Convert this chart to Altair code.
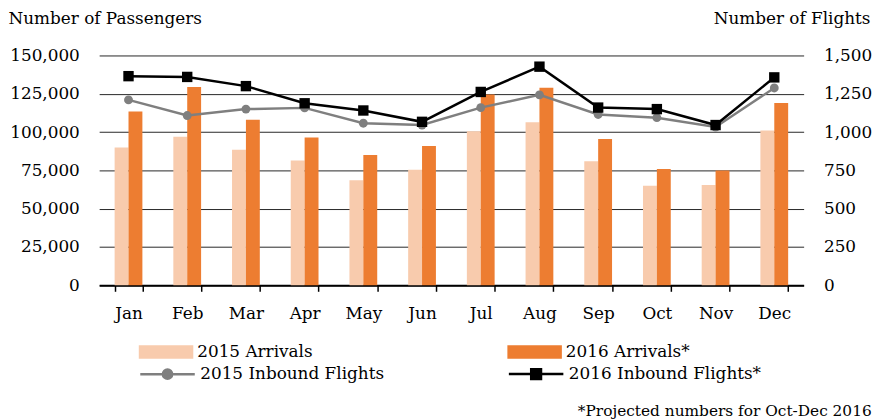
import altair as alt
import pandas as pd

months = ["Jan", "Feb", "Mar", "Apr", "May", "Jun", "Jul", "Aug", "Sep", "Oct", "Nov", "Dec"]
bar_series = ["2015 Arrivals", "2016 Arrivals*"]
line_series = ["2015 Inbound Flights", "2016 Inbound Flights*"]
arrivals_2015 = [90000, 97000, 88500, 81500, 68500, 75500, 100500, 106500, 81000, 65000, 65500, 101000]
arrivals_2016 = [113500, 129500, 108000, 96500, 85000, 91000, 124500, 129000, 95500, 76000, 75000, 119000]
flights_2015 = [1210, 1108, 1150, 1158, 1058, 1046, 1160, 1243, 1115, 1094, 1033, 1288]
flights_2016 = [1365, 1360, 1300, 1188, 1141, 1067, 1262, 1427, 1160, 1150, 1046, 1357]
passenger_ticks = [0, 25000, 50000, 75000, 100000, 125000, 150000]
flight_ticks = [0, 250, 500, 750, 1000, 1250, 1500]
left_title = "Number of Passengers"
right_title = "Number of Flights"
footnote = "*Projected numbers for Oct-Dec 2016"

FONT = "DejaVu Serif"
FS = 17
C15_BAR, C16_BAR = "#F8CBAD", "#ED7D31"
C15_LINE, C16_LINE = "#7F7F7F", "#000000"

bars_df = pd.DataFrame({
    "month": months * 2,
    "series": [bar_series[0]] * 12 + [bar_series[1]] * 12,
    "passengers": arrivals_2015 + arrivals_2016,
})
flights_df = pd.DataFrame({
    "month": months * 2,
    "series": [line_series[0]] * 12 + [line_series[1]] * 12,
    "flights": flights_2015 + flights_2016,
})

bar_sym = "M-1,-0.25H1V0.25H-1Z"
circle_sym = "M-1,0H1M-0.17,0A0.17,0.17,0,1,1,0.17,0A0.17,0.17,0,1,1,-0.17,0Z"
square_sym = "M-1,0H1M-0.18,-0.18H0.18V0.18H-0.18Z"

x_axis = alt.Axis(title=None, labelAngle=0, tickBand="extent", tickSize=6, tickWidth=1.5,
                  tickColor="#000", domainColor="#000", domainWidth=2,
                  labelPadding=14, grid=False, labelFont=FONT, labelFontSize=FS,
                  labelColor="#000")
x_enc = alt.X("month:N", sort=months,
              scale=alt.Scale(paddingInner=0.527, paddingOuter=0.2635), axis=x_axis)

bar_legend = alt.Legend(
    orient="none", legendX=40, legendY=271.5, direction="horizontal", columns=2,
    columnPadding=196, title=None, symbolType=bar_sym, symbolSize=3025,
    symbolStrokeWidth=0, labelFont=FONT, labelFontSize=FS, labelColor="#000",
    labelOffset=4, padding=0, labelLimit=400,
)

left_axis = alt.Axis(values=passenger_ticks, labelExpr="format(datum.value, ',')",
                     title=left_title, titleAngle=0, titleX=-92, titleY=-32,
                     titleAlign="left", titleBaseline="alphabetic", titleFont=FONT,
                     titleFontSize=FS, titleFontWeight="normal", titleColor="#000",
                     labelFont=FONT, labelFontSize=FS, labelColor="#000",
                     labelPadding=20, ticks=False, domain=False, grid=True,
                     gridColor="#262626", gridWidth=1)

bars = alt.Chart(bars_df).mark_bar().encode(
    x=x_enc,
    xOffset=alt.XOffset("series:N", sort=bar_series, scale=alt.Scale(paddingInner=0, paddingOuter=0)),
    y=alt.Y("passengers:Q", scale=alt.Scale(domain=[0, 150000], nice=False), axis=left_axis),
    color=alt.Color("series:N", sort=bar_series,
                    scale=alt.Scale(domain=bar_series, range=[C15_BAR, C16_BAR]),
                    legend=bar_legend),
)

right_axis = alt.Axis(orient="right", values=flight_ticks,
                      labelExpr="format(datum.value, ',')",
                      title=right_title, titleAngle=0, titleX=67, titleY=-32,
                      titleAlign="right", titleBaseline="alphabetic", titleFont=FONT,
                      titleFontSize=FS, titleFontWeight="normal", titleColor="#000",
                      labelFont=FONT, labelFontSize=FS, labelColor="#000",
                      labelAlign="left", labelPadding=20, ticks=False,
                      domain=False, grid=False)
y_right = alt.Y("flights:Q", scale=alt.Scale(domain=[0, 1500], nice=False), axis=right_axis)

base = alt.Chart(flights_df)
line15 = base.transform_filter(alt.datum.series == line_series[0]).mark_line(
    color=C15_LINE, strokeWidth=2.5).encode(x=x_enc, y=y_right)
line16 = base.transform_filter(alt.datum.series == line_series[1]).mark_line(
    color=C16_LINE, strokeWidth=2.5).encode(x=x_enc, y=y_right)
pts15 = base.transform_filter(alt.datum.series == line_series[0]).mark_point(
    shape="circle", filled=True, size=80, color=C15_LINE, opacity=1).encode(x=x_enc, y=y_right)
pts16 = base.transform_filter(alt.datum.series == line_series[1]).mark_point(
    shape="square", filled=True, size=110, color=C16_LINE, opacity=1).encode(x=x_enc, y=y_right)

line_legend = alt.Legend(
    orient="none", legendX=40, legendY=292.5, direction="horizontal", columns=2,
    columnPadding=120, title=None, symbolSize=3025, symbolStrokeWidth=2.5,
    symbolOpacity=1, labelFont=FONT, labelFontSize=FS, labelColor="#000",
    labelOffset=4, padding=0, labelLimit=400,
)
color_scale = alt.Scale(domain=line_series, range=[C15_LINE, C16_LINE])
legend_layer = base.mark_point(filled=True, opacity=0).encode(
    x=x_enc, y=y_right,
    fill=alt.Fill("series:N", sort=line_series, scale=color_scale, legend=line_legend),
    stroke=alt.Stroke("series:N", sort=line_series, scale=color_scale, legend=line_legend),
    shape=alt.Shape("series:N", sort=line_series,
                    scale=alt.Scale(domain=line_series, range=[circle_sym, square_sym]),
                    legend=line_legend),
)

flights_layer = alt.layer(line15, line16, pts15, pts16, legend_layer)

chart = alt.layer(bars, flights_layer).resolve_scale(y="independent").properties(
    width=711, height=232, padding=0, background="white",
    title=alt.TitleParams(footnote, orient="bottom", anchor="end", font=FONT,
                          fontSize=15.5, fontWeight="normal", color="#000", offset=20),
).configure_view(stroke=None)

chart.save("out.html", embed_options={"renderer": "svg", "actions": False})
